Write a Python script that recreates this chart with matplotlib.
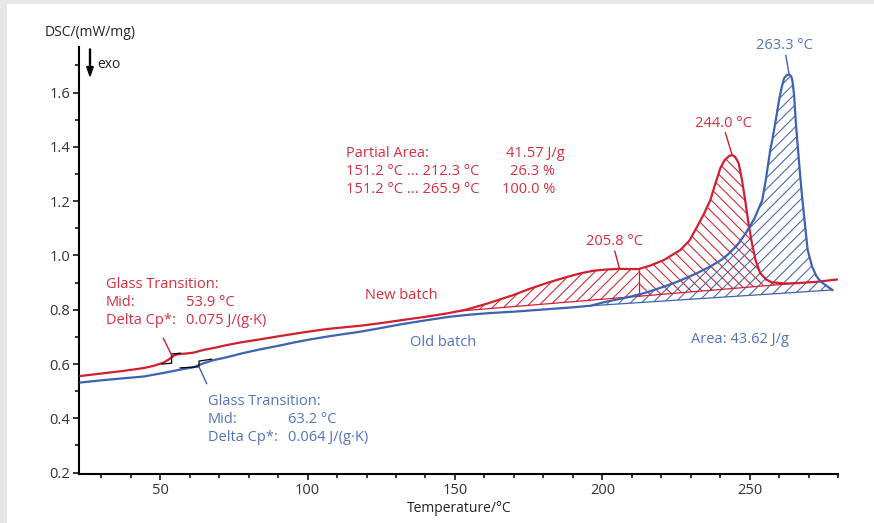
import numpy as np
import matplotlib
matplotlib.use('Agg')
import matplotlib.pyplot as plt
from matplotlib.patches import Rectangle, FancyArrow
from matplotlib.ticker import MultipleLocator, FormatStrFormatter

# DSC curves, temperature in °C, signal in mW/mg
new_T = [23.0, 30, 37, 44.3, 48, 51.1, 53.0, 53.9, 55.0, 56.5, 59, 61.3, 64.7, 68.5,
         72.6, 78, 83.9, 90, 95.2, 100, 106.5, 112, 117.8, 125, 132, 140, 147.5, 154,
         161, 170, 175, 181, 187, 192.5, 197, 201, 205.8, 209, 212.3, 216, 220.8,
         226.4, 229.5, 232.1, 234.5, 236.6, 238.3, 240.0, 241.5, 243, 244.0, 245.0,
         246.2, 247.3, 248.4, 249.5, 250.7, 252, 253.5, 255.5, 257.5, 262, 266,
         272.6, 280]
new_dsc = [0.556, 0.565, 0.574, 0.585, 0.594, 0.605, 0.617, 0.625, 0.633, 0.637,
           0.639, 0.642, 0.652, 0.660, 0.670, 0.681, 0.691, 0.702, 0.711, 0.719,
           0.729, 0.735, 0.741, 0.751, 0.762, 0.774, 0.787, 0.801, 0.823, 0.855,
           0.876, 0.898, 0.918, 0.934, 0.944, 0.948, 0.951, 0.950, 0.950, 0.962,
           0.983, 1.020, 1.055, 1.106, 1.155, 1.204, 1.265, 1.322, 1.352, 1.367,
           1.370, 1.363, 1.340, 1.280, 1.204, 1.120, 1.045, 0.980, 0.935, 0.912,
           0.901, 0.897, 0.898, 0.903, 0.912]

old_T = [23.0, 30, 37, 44.3, 50, 53.4, 57, 61.3, 63.2, 64.5, 68, 72.6, 78, 83.9, 90,
         95.2, 100, 106.5, 112, 117.8, 125, 132, 140, 148, 155, 162, 170, 180, 190,
         196, 200.6, 205, 209.4, 215, 220.8, 226, 231.9, 237, 240.5, 243, 246,
         248.6, 251.5, 254.2, 255.4, 256.9, 257.6, 258.8, 259.9, 260.8, 261.6,
         262.5, 263.3, 264.0, 264.4, 265.0, 265.6, 266.1, 266.7, 267.5, 268.4,
         269.6, 271.1, 272.5, 274, 276, 278]
old_dsc = [0.532, 0.540, 0.547, 0.554, 0.565, 0.572, 0.580, 0.588, 0.596, 0.602,
           0.614, 0.625, 0.640, 0.654, 0.667, 0.679, 0.689, 0.701, 0.710, 0.719,
           0.733, 0.747, 0.761, 0.774, 0.782, 0.788, 0.793, 0.801, 0.809, 0.815,
           0.828, 0.838, 0.848, 0.864, 0.885, 0.906, 0.934, 0.962, 0.985, 1.008,
           1.042, 1.082, 1.135, 1.204, 1.278, 1.388, 1.425, 1.500, 1.573, 1.620,
           1.653, 1.664, 1.667, 1.660, 1.646, 1.590, 1.487, 1.420, 1.340, 1.240,
           1.143, 1.020, 0.959, 0.925, 0.904, 0.888, 0.873]

# evaluation results
new_tg = (53.9, 0.075)
old_tg = (63.2, 0.064)
# extrapolated tangents around the glass step: (T start, y start, y at mid, y after mid, T end, y end)
new_tg_tangents = (50.6, 0.600, 0.603, 0.637, 56.8, 0.640)
old_tg_tangents = (56.8, 0.586, 0.590, 0.611, 67.5, 0.618)
new_peaks = [205.8, 244.0]
old_peak = 263.3
partial_limits = (151.2, 212.3, 265.9)
partial_area = 41.57
partial_pct = (26.3, 100.0)
old_area_limits = (195.0, 278.0)
old_area = 43.62

RED = '#d01f2e'
RED_TXT = '#d42f3e'
BLUE = '#3e61b1'
BLUE_TXT = '#5173bd'

plt.rcParams['font.family'] = ['Open Sans', 'DejaVu Sans']
plt.rcParams['hatch.linewidth'] = 0.75

fig = plt.figure(figsize=(8.74, 5.23), dpi=100)
fig.patch.set_facecolor('#e6e6e6')
fig.patches.append(Rectangle((7 / 874, 0), 1, 1 - 4 / 523, transform=fig.transFigure,
                             facecolor='white', edgecolor='none', zorder=-5))
ax = fig.add_axes([0.0907, 0.0937, 0.8685, 0.8164])
ax.set_facecolor('white')

nT, nY = np.array(new_T), np.array(new_dsc)
oT, oY = np.array(old_T), np.array(old_dsc)

# partial area of the new batch, split at the second limit
t0, t1, t2 = partial_limits
b0, b2 = np.interp(t0, nT, nY), np.interp(t2, nT, nY)
def base_new(t):
    return b0 + (b2 - b0) * (t - t0) / (t2 - t0)

for lo, hi, hatch in [(t0, t1, '///'), (t1, t2, '\\\\\\')]:
    m = (nT > lo) & (nT < hi)
    tt = np.concatenate([[lo], nT[m], [hi]])
    yy = np.interp(tt, nT, nY)
    ax.fill_between(tt, base_new(tt), yy, facecolor='none', edgecolor=RED,
                    hatch=hatch, linewidth=0, zorder=2)
ax.plot([t0, t2], [b0, b2], color=RED, lw=0.9, zorder=3)
ax.plot([t1, t1], [base_new(t1), np.interp(t1, nT, nY)], color=RED, lw=0.9, zorder=3)

# peak area of the old batch
a0, a1 = old_area_limits
c0, c1 = np.interp(a0, oT, oY), np.interp(a1, oT, oY)
m = (oT > a0) & (oT < a1)
tt = np.concatenate([[a0], oT[m], [a1]])
yy = np.interp(tt, oT, oY)
ax.fill_between(tt, c0 + (c1 - c0) * (tt - a0) / (a1 - a0), yy, facecolor='none',
                edgecolor=BLUE, hatch='///', linewidth=0, zorder=2)
ax.plot([a0, a1], [c0, c1], color=BLUE, lw=0.9, zorder=3)

ax.plot(nT, nY, color=RED, lw=1.6, zorder=4)
ax.plot(oT, oY, color=BLUE, lw=1.6, zorder=4)

# glass transition step markers and leader lines
def tg_marks(tmid, tang, color, lead):
    ts, ys, ym0, ym1, te, ye = tang
    ax.plot([ts, tmid, tmid, te], [ys, ym0, ym1, ye], color='black', lw=0.9, zorder=5)
    ax.plot([tmid, tmid + lead[0]], [ym0 if lead[1] < 0 else ym1 - 0.004,
            (ym0 if lead[1] < 0 else ym1) + lead[1]], color=color, lw=1.0, zorder=5)

tg_marks(new_tg[0], new_tg_tangents, RED, (-2.8, 0.058))
tg_marks(old_tg[0], old_tg_tangents, BLUE, (2.6, -0.062))

# annotation texts
fs = 10.5
def txt(x, y, s, c, ha='left'):
    ax.text(x, y, s, color=c, fontsize=fs, ha=ha, va='center', zorder=6)

txt(31.6, 0.894, 'Glass Transition:', RED_TXT)
txt(31.6, 0.826, 'Mid:', RED_TXT)
txt(58.8, 0.826, f'{new_tg[0]:.1f} °C', RED_TXT)
txt(31.6, 0.759, 'Delta Cp*:', RED_TXT)
txt(58.8, 0.759, f'{new_tg[1]:.3f} J/(g·K)', RED_TXT)

txt(66.2, 0.461, 'Glass Transition:', BLUE_TXT)
txt(66.2, 0.397, 'Mid:', BLUE_TXT)
txt(93.3, 0.397, f'{old_tg[0]:.1f} °C', BLUE_TXT)
txt(66.2, 0.329, 'Delta Cp*:', BLUE_TXT)
txt(93.3, 0.329, f'{old_tg[1]:.3f} J/(g·K)', BLUE_TXT)

txt(113.1, 1.376, 'Partial Area:', RED_TXT)
txt(167.2, 1.376, f'{partial_area:.2f} J/g', RED_TXT)
txt(113.1, 1.309, f'{t0:.1f} °C ... {t1:.1f} °C', RED_TXT)
txt(183.9, 1.309, f'{partial_pct[0]:.1f} %', RED_TXT, ha='right')
txt(113.1, 1.244, f'{t0:.1f} °C ... {t2:.1f} °C', RED_TXT)
txt(183.9, 1.244, f'{partial_pct[1]:.1f} %', RED_TXT, ha='right')

txt(131.7, 0.851, 'New batch', RED_TXT, ha='center')
txt(145.9, 0.678, 'Old batch', BLUE_TXT, ha='center')
txt(229.9, 0.689, f'Area: {old_area:.2f} J/g', BLUE_TXT)

# peak labels with leader lines
for tp, lx, ly, c, tc, T, Y in [(new_peaks[0], 204.2, 1.051, RED, RED_TXT, nT, nY),
                                (new_peaks[1], 241.1, 1.487, RED, RED_TXT, nT, nY),
                                (old_peak, 261.6, 1.772, BLUE, BLUE_TXT, oT, oY)]:
    yp = np.interp(tp, T, Y)
    ax.plot([tp, lx + (0.6 if tp != new_peaks[0] else 0.0)], [yp, ly - 0.035],
            color=c, lw=1.0, zorder=5, clip_on=False)
    ax.text(lx, ly, f'{tp:.1f} °C', color=tc, fontsize=fs, ha='center', va='center',
            zorder=6, clip_on=False)

# axes styling
ax.set_xlim(22.6, 280)
ax.set_ylim(0.195, 1.768)
ax.xaxis.set_major_locator(MultipleLocator(50))
ax.xaxis.set_minor_locator(MultipleLocator(10))
ax.yaxis.set_major_locator(MultipleLocator(0.2))
ax.yaxis.set_minor_locator(MultipleLocator(0.1))
ax.yaxis.set_major_formatter(FormatStrFormatter('%.1f'))
for side in ['top', 'right']:
    ax.spines[side].set_visible(False)
for side in ['left', 'bottom']:
    ax.spines[side].set_linewidth(1.5)
ax.tick_params(which='major', length=4.5, width=1.1, labelsize=10.5,
               labelcolor='#333333', pad=2)
ax.tick_params(which='minor', length=3, width=1.1)
ax.set_xlabel('Temperature/°C', fontsize=10, color='#222222', labelpad=2)

fig.text(45 / 874, 1 - 32 / 523, 'DSC/(mW/mg)', fontsize=10, color='#222222',
         ha='left', va='center')
fig.patches.append(FancyArrow(
    90 / 874, 1 - 49 / 523, 0, -27 / 523, width=0.0011, head_width=0.0075,
    head_length=0.018, length_includes_head=True, transform=fig.transFigure,
    color='black'))
fig.text(97 / 874, 1 - 64 / 523, 'exo', fontsize=10, color='#222222', ha='left',
         va='center')

fig.savefig('out.png', dpi=100, facecolor=fig.get_facecolor())
